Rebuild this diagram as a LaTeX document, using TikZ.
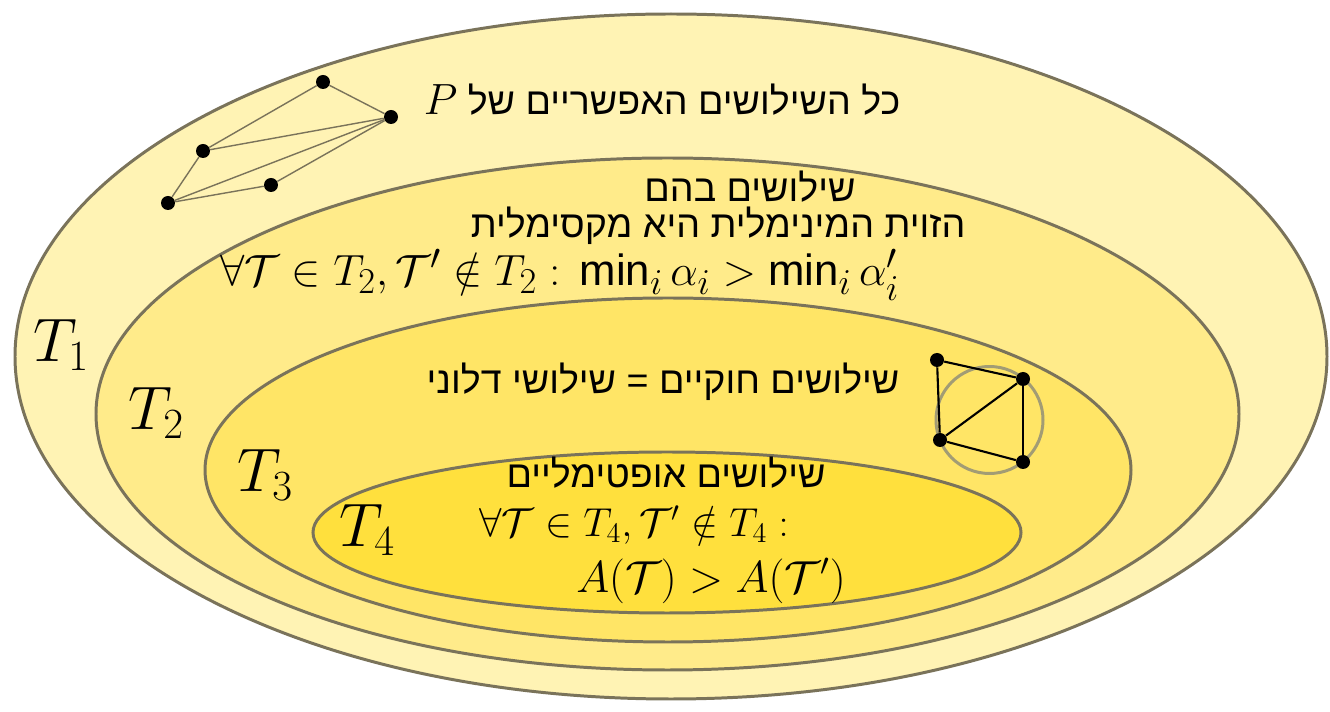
\documentclass[tikz,border=0pt]{standalone}
\usepackage{fix-cm}
\usepackage{amsmath}
\usepackage{fontspec}
\newfontfamily\hebfont[Script=Hebrew]{Liberation Sans}
\TeXXeTstate=1
\newcommand{\heb}[1]{{\hebfont\beginR #1\endR}}
\newcommand{\mn}{\mathop{\text{\hebfont min}}\nolimits}
\definecolor{setone}{HTML}{FFF3B4}
\definecolor{settwo}{HTML}{FFEB8A}
\definecolor{setthree}{HTML}{FFE566}
\definecolor{setfour}{HTML}{FFE03D}
\definecolor{rim}{HTML}{7A735A}
\definecolor{ring}{HTML}{A29C74}
\begin{document}
\begin{tikzpicture}[x=0.02cm, y=-0.02cm,
    region/.style ={draw=rim, line width=1.7pt},
    vertex/.style ={circle, fill=black, inner sep=0pt, minimum size=0.28cm},
    setname/.style ={font=\fontsize{35}{42}\selectfont, inner sep=0pt},
    caption/.style ={font=\fontsize{21.4}{25}\selectfont, inner sep=0pt},
    formula/.style ={font=\fontsize{24.88}{30}\selectfont, inner sep=0pt}]
   \useasboundingbox (0,0) rectangle (1330,712);

   % nested sets
   \draw[region, fill=setone]   (671,356.5) ellipse [x radius=656, y radius=342.5];
   \draw[region, fill=settwo]   (667.5,414) ellipse [x radius=571.5, y radius=256];
   \draw[region, fill=setthree] (668,470) ellipse [x radius=463, y radius=172];
   \draw[region, fill=setfour]  (667,532.5) ellipse [x radius=354, y radius=80.5];

   \node[setname] (T1) at (61,345) {$T_1$};
   \node[setname] (T2) at (156,413) {$T_2$};
   \node[setname] (T3) at (265,475) {$T_3$};
   \node[setname] (T4) at (367,530) {$T_4$};

   % texts
   \node[caption] (all)  at (662,100)
      {\heb{כל השילושים האפשריים של \beginL{\fontsize{24.88}{30}\selectfont$P$}\endL}};
   \node[caption] (maxa) at (750,187) {\heb{שילושים בהם}};
   \node[caption] (maxb) at (718,226) {\heb{הזוית המינימלית היא מקסימלית}};
   \node[formula] (maxf) at (560,275)
      {$\forall\mathcal{T}\in T_2,\mathcal{T}'\notin T_2:\,\mn_i\alpha_i>\mn_i\alpha'_i$};
   \node[caption] (legal) at (663,382) {\heb{שילושים חוקיים = שילושי דלוני}};
   \node[caption] (opt)  at (666,473) {\heb{שילושים אופטימליים}};
   \node[formula, font=\fontsize{23}{28}\selectfont] (optf) at (634,525)
      {$\forall\mathcal{T}\in T_4,\mathcal{T}'\notin T_4:$};
   \node[formula, font=\fontsize{25.5}{30}\selectfont] (optg) at (711,581)
      {$A(\mathcal{T})>A(\mathcal{T}')$};

   % some triangulation
   \node[vertex] (a) at (323,82)  {};
   \node[vertex] (b) at (391,117) {};
   \node[vertex] (c) at (203,151) {};
   \node[vertex] (d) at (271,185) {};
   \node[vertex] (e) at (168,203) {};

   \draw[rim, thick] (a) to (b);
   \draw[rim, thick] (a) to (c);
   \draw[rim, thick] (c) to (b);
   \draw[rim, thick] (e) to (b);
   \draw[rim, thick] (d) to (b);
   \draw[rim, thick] (c) to (e);
   \draw[rim, thick] (e) to (d);

   % delaunay
   \draw[ring, line width=1.7pt] (989.5,420) circle [radius=53.5];
   \node[vertex] (p) at (937,360)  {};
   \node[vertex] (q) at (1023,379) {};
   \node[vertex] (r) at (940,440)  {};
   \node[vertex] (s) at (1023,462) {};

   \draw[line width=1.2pt] (p) to (q);
   \draw[line width=1.2pt] (p) to (r);
   \draw[line width=1.2pt] (q) to (r);
   \draw[line width=1.2pt] (q) to (s);
   \draw[line width=1.2pt] (r) to (s);
\end{tikzpicture}
\end{document}
